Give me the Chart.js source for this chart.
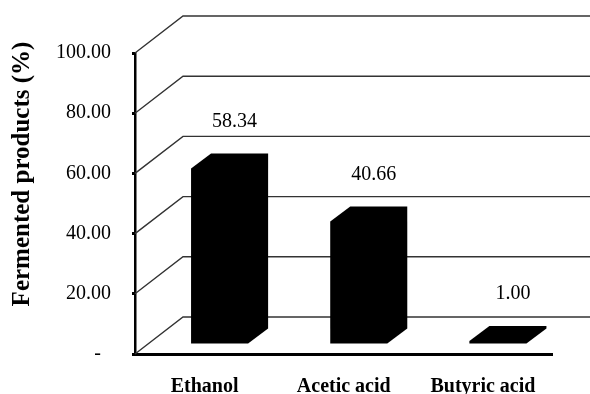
<!DOCTYPE html>
<html><head><meta charset="utf-8">
<script src="https://cdn.jsdelivr.net/npm/chart.js@4.4.1/dist/chart.umd.min.js"></script>
<style>html,body{margin:0;padding:0;background:#fff}</style>
</head><body>
<canvas id="c" width="590" height="394"></canvas>
<script>
const categories = ['Ethanol', 'Acetic acid', 'Butyric acid'];
const values = [58.34, 40.66, 1.00];
const yTicks = [0, 20, 40, 60, 80, 100];
const yTitle = 'Fermented products (%)';

const SERIF = '"Liberation Serif", "Times New Roman", serif';
const DEPTH = { dx: 48, dy: -37 };   // back wall offset
const FACE = { dx: 15, dy: -10 };    // bar front face offset
const BAR3D = { dx: 20, dy: -15 };   // bar depth

const wall3d = {
  id: 'wall3d',
  beforeDatasetsDraw(chart) {
    const { ctx, chartArea, scales: { y } } = chart;
    ctx.save();
    ctx.strokeStyle = '#333';
    ctx.lineWidth = 1.4;
    yTicks.forEach(v => {
      const py = y.getPixelForValue(v);
      ctx.beginPath();
      ctx.moveTo(chartArea.left, py);
      ctx.lineTo(chartArea.left + DEPTH.dx, py + DEPTH.dy);
      ctx.lineTo(chart.width, py + DEPTH.dy);
      ctx.stroke();
    });
    ctx.restore();
  },
  afterDatasetsDraw(chart) {
    const { ctx } = chart;
    const meta = chart.getDatasetMeta(0);
    ctx.save();
    meta.data.forEach((bar, i) => {
      const w = bar.width;
      const x0 = bar.x - w / 2 + FACE.dx;
      const x1 = x0 + w;
      const yTop = bar.y + FACE.dy;
      const yBase = bar.base + FACE.dy;
      ctx.fillStyle = '#000';
      ctx.beginPath();
      ctx.moveTo(x0, yBase);
      ctx.lineTo(x0, yTop);
      ctx.lineTo(x0 + BAR3D.dx, yTop + BAR3D.dy);
      ctx.lineTo(x1 + BAR3D.dx, yTop + BAR3D.dy);
      ctx.lineTo(x1 + BAR3D.dx, yBase + BAR3D.dy);
      ctx.lineTo(x1, yBase);
      ctx.closePath();
      ctx.fill();
      // value label
      ctx.font = '20px ' + SERIF;
      ctx.textAlign = 'center';
      ctx.textBaseline = 'middle';
      ctx.fillText(values[i].toFixed(2), bar.x + 30, yTop - 47);
    });
    // axis title
    ctx.translate(23, 174);
    ctx.rotate(-Math.PI / 2);
    ctx.font = 'bold 25px ' + SERIF;
    ctx.textAlign = 'center';
    ctx.textBaseline = 'middle';
    ctx.fillStyle = '#000';
    ctx.fillText(yTitle, 0, 0);
    ctx.restore();
  }
};

new Chart(document.getElementById('c'), {
  type: 'bar',
  data: {
    labels: categories,
    datasets: [{
      data: values,
      backgroundColor: 'rgba(0,0,0,0)',
      borderWidth: 0,
      barPercentage: 0.41,
      categoryPercentage: 1
    }]
  },
  options: {
    responsive: false,
    animation: false,
    devicePixelRatio: 1,
    layout: { padding: { top: 53, right: 37.5, left: 0, bottom: 0 } },
    plugins: { legend: { display: false }, tooltip: { enabled: false } },
    scales: {
      x: {
        grid: { display: false, drawTicks: false },
        border: { display: true, color: '#000', width: 3 },
        ticks: { font: { family: SERIF, size: 20, weight: 'bold' }, color: '#000', padding: 21, maxRotation: 0 },
        afterFit: s => { s.height = 40; }
      },
      y: {
        min: 0, max: 100,
        afterBuildTicks: s => { s.ticks = yTicks.map(v => ({ value: v })); },
        grid: { color: 'rgba(0,0,0,0)', tickColor: '#000', tickLength: 3, tickWidth: 3, drawOnChartArea: false },
        border: { display: true, color: '#000', width: 2.5 },
        ticks: {
          font: { family: SERIF, size: 20 }, color: '#000', padding: 21,
          callback: v => v === 0 ? '-  ' : Number(v).toFixed(2)
        },
        afterFit: s => { s.width = 135; }
      }
    }
  },
  plugins: [wall3d]
});
</script>
</body></html>
